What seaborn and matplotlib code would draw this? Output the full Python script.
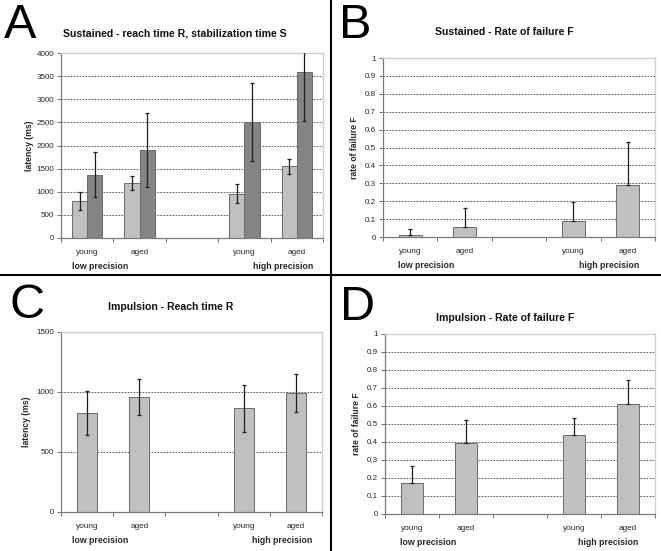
import numpy as np
import pandas as pd
import matplotlib.pyplot as plt
import seaborn as sns
from matplotlib.lines import Line2D

# category slots (middle slot stays empty, as in the original)
slots = ["young low", "aged low", "gap", "young high", "aged high"]
tick_labels = ["young", "aged", "", "young", "aged"]
cats = ["young low", "aged low", "young high", "aged high"]
groups = ["low precision", "high precision"]

# A: sustained - reach time R and stabilization time S (ms)
sus_R = [805, 1180, 960, 1550]
sus_R_err = [195, 150, 200, 160]
sus_S = [1370, 1900, 2510, 3600]
sus_S_err = [480, 795, 835, 1060]

# B: sustained - rate of failure F
sus_F = [0.01, 0.055, 0.09, 0.29]
sus_F_err = [0.035, 0.108, 0.107, 0.243]

# C: impulsion - reach time R (ms)
imp_R = [825, 955, 865, 992]
imp_R_err = [183, 150, 197, 156]

# D: impulsion - rate of failure F
imp_F = [0.175, 0.395, 0.44, 0.61]
imp_F_err = [0.09, 0.13, 0.093, 0.135]

LIGHT = "#c0c0c0"
DARK = "#858585"
W, H = 661, 551

sns.set_style("white")
plt.rcParams['font.family'] = ['Liberation Sans', 'DejaVu Sans']

fig = plt.figure(figsize=(W / 100, H / 100), dpi=100, facecolor="white")


def px_axes(left, right, top, bottom):
    return fig.add_axes([left / W, 1 - bottom / H, (right - left) / W, (bottom - top) / H])


def style_axes(ax, yticks, ylabel, fmt, group_x, labelpad=4):
    ax.set_xlim(-0.5, 4.5)
    ax.set_ylim(yticks[0], yticks[-1])
    ax.set_yticks(yticks)
    ax.set_yticklabels([fmt(v) for v in yticks], fontsize=5.8)
    ax.set_xticks(np.arange(-0.5, 5, 1.0))
    ax.set_xticklabels([])
    ax.set_xticks(np.arange(5), minor=True)
    ax.set_xticklabels(tick_labels, minor=True, fontsize=5.9)
    ax.tick_params(axis='x', which='major', direction='out', length=3, width=0.7,
                   color='#707070', bottom=True)
    ax.tick_params(axis='x', which='minor', length=0, pad=8)
    ax.tick_params(axis='y', direction='out', length=3, width=0.7, color='#707070',
                   left=True, pad=2)
    ax.set_xlabel("")
    ax.set_ylabel(ylabel, fontsize=6.2, fontweight='bold', labelpad=labelpad)
    ax.grid(axis='y', color='#404040', linestyle=(0, (2, 1.6)), linewidth=0.6)
    ax.set_axisbelow(True)
    for side in ['left', 'bottom']:
        ax.spines[side].set_color('#7a7a7a')
        ax.spines[side].set_linewidth(0.9)
    for side in ['top', 'right']:
        ax.spines[side].set_color('#cfcfcf')
        ax.spines[side].set_linewidth(1.0)
    ax.set_facecolor("white")
    for gx, g in zip(group_x, groups):
        ax.annotate(g, xy=(gx, 0), xycoords=('data', 'axes fraction'),
                    xytext=(0, -20.5), textcoords='offset points',
                    ha='center', va='center', fontsize=6.3, fontweight='bold')


def add_errors(ax, errs, upper_only, hue_levels=None):
    for p in ax.patches:
        cx = p.get_x() + p.get_width() / 2
        h = p.get_height()
        i = int(round(cx))
        if hue_levels is None:
            e = errs[slots[i]]
        else:
            lvl = hue_levels[0] if cx < i else hue_levels[1]
            e = errs[(slots[i], lvl)]
        yerr = [[0], [e]] if upper_only else [[e], [e]]
        ax.errorbar(cx, h, yerr=yerr, fmt='none', ecolor='#1e1e1e',
                    elinewidth=0.9, capsize=1.6, capthick=0.9, zorder=5)


def single_panel(ax, values, errs, upper_only, yticks, ylabel, fmt, width, group_x):
    df = pd.DataFrame({"slot": cats, "value": values})
    sns.barplot(data=df, x="slot", y="value", order=slots, color=LIGHT,
                width=width, edgecolor="#6a6a6a", linewidth=0.7,
                errorbar=None, ax=ax, saturation=1)
    add_errors(ax, dict(zip(cats, errs)), upper_only)
    style_axes(ax, yticks, ylabel, fmt, group_x)


def ms(v):
    return f"{v:.0f}"


def rate(v):
    return f"{v:g}"


# panel A
axA = px_axes(61, 323, 53, 238)
dfA = pd.DataFrame({
    "slot": cats * 2,
    "series": ["R"] * 4 + ["S"] * 4,
    "value": sus_R + sus_S,
})
sns.barplot(data=dfA, x="slot", y="value", hue="series", order=slots,
            hue_order=["R", "S"], palette=[LIGHT, DARK], width=0.58, gap=0,
            edgecolor="#6a6a6a", linewidth=0.7, errorbar=None, legend=False,
            ax=axA, saturation=1)
errA = {}
for c, r, s in zip(cats, sus_R_err, sus_S_err):
    errA[(c, "R")] = r
    errA[(c, "S")] = s
add_errors(axA, errA, False, hue_levels=["R", "S"])
style_axes(axA, np.arange(0, 4001, 500), "latency (ms)", ms, [0.25, 3.73], labelpad=2)

# panel B
axB = px_axes(383, 655, 58, 237)
single_panel(axB, sus_F, sus_F_err, True, np.round(np.arange(0, 1.01, 0.1), 1),
             "rate of failure F", rate, 0.42, [0.3, 3.66])

# panel C
axC = px_axes(61, 322, 332, 512)
single_panel(axC, imp_R, imp_R_err, False, np.arange(0, 1501, 500),
             "latency (ms)", ms, 0.39, [0.24, 3.73])

# panel D
axD = px_axes(385, 655, 334, 514)
single_panel(axD, imp_F, imp_F_err, True, np.round(np.arange(0, 1.01, 0.1), 1),
             "rate of failure F", rate, 0.4, [0.3, 3.64])

# titles and panel letters (pixel positions)
titles = [
    ("Sustained - reach time R, stabilization time S", 175, 33),
    ("Sustained - Rate of failure F", 504, 32),
    ("Impulsion - Reach time R", 171, 307),
    ("Impulsion - Rate of failure F", 505, 318),
]
for t, x, y in titles:
    fig.text(x / W, 1 - y / H, t, ha='center', va='center', fontsize=7.6,
             fontweight='bold', color='#111111')

letters = [("A", 4, 38), ("B", 339, 38), ("C", 9, 318), ("D", 340, 320)]
for t, x, y in letters:
    fig.text(x / W, 1 - y / H, t, ha='left', va='baseline', fontsize=35,
             color='black')

# panel dividers
fig.add_artist(Line2D([330.5 / W, 330.5 / W], [0, 1], color='black', linewidth=1.5))
fig.add_artist(Line2D([0, 1], [1 - 275 / H, 1 - 275 / H], color='black', linewidth=1.5))

fig.savefig("out.png", dpi=100)
